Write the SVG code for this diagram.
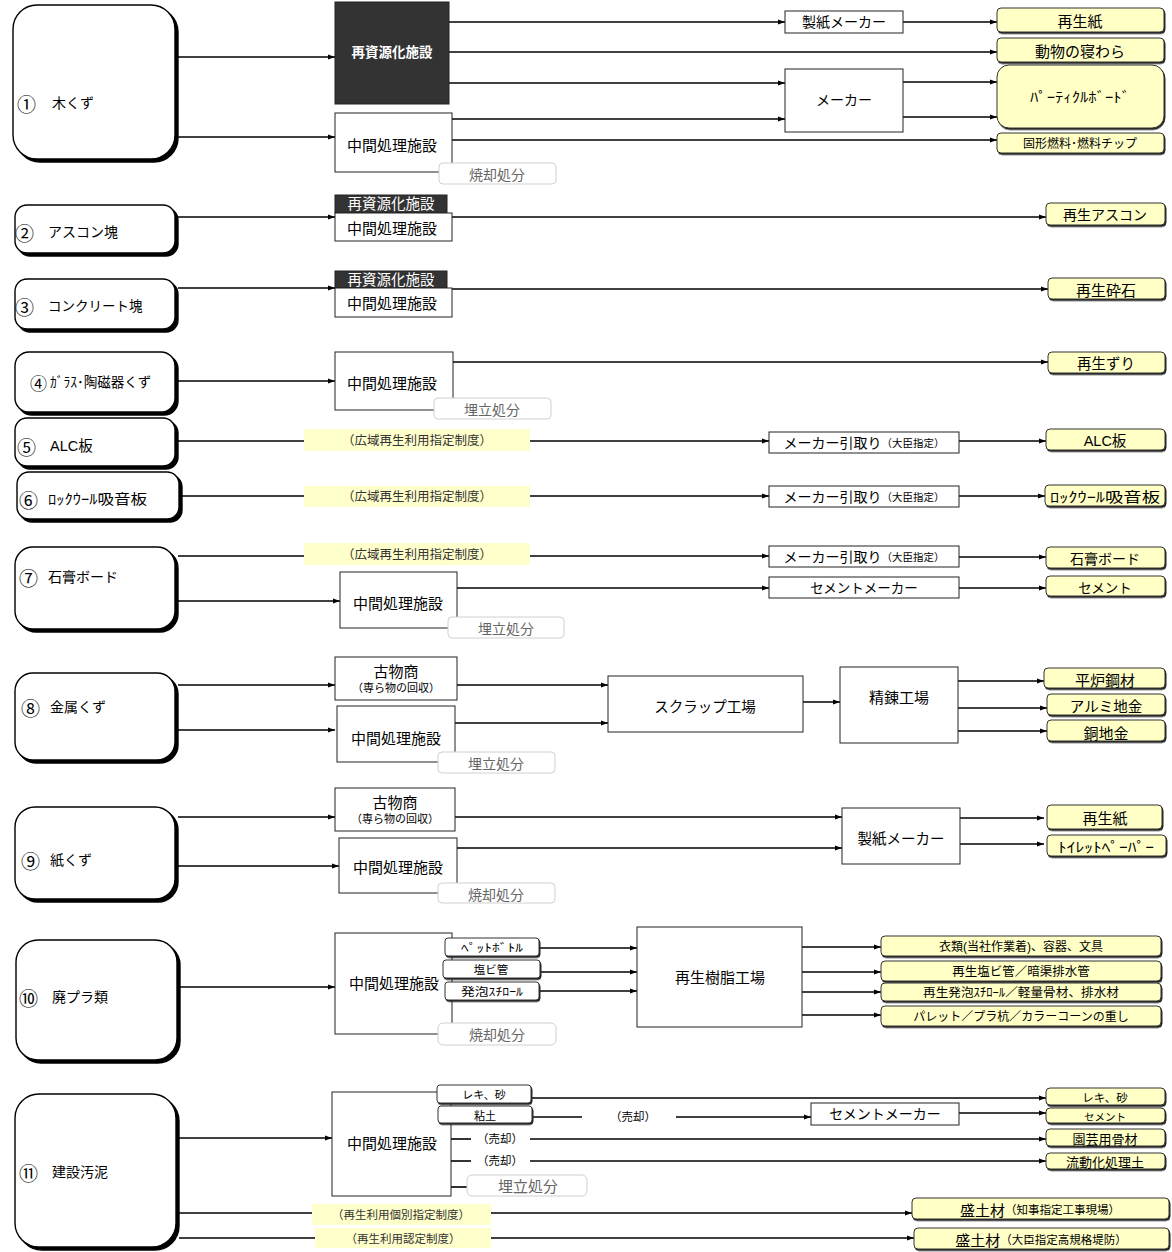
<svg xmlns="http://www.w3.org/2000/svg" width="1172" height="1252" viewBox="0 0 1172 1252">
<defs>
<style>
text{font-family:"Liberation Sans","Noto Sans CJK JP",sans-serif;fill:#000}
text.num{font-family:"Noto Sans CJK JP","Liberation Sans",sans-serif;font-size:19px}
.c{text-anchor:middle;dominant-baseline:central}
.l{dominant-baseline:central}
.src{fill:#fff;stroke:#000;stroke-width:1.4;filter:url(#shB)}
.box{fill:#fff;stroke:#222;stroke-width:1}
.dark{fill:#333;stroke:#222;stroke-width:1}
.out{fill:#ffffc6;stroke:#333;stroke-width:1;filter:url(#shS)}
.sm{fill:#fff;stroke:#333;stroke-width:1;filter:url(#shS)}
.disp{fill:#fff;stroke:#d0d0d0;stroke-width:1}
.law{fill:#ffffcc}
.lt{fill:#333;font-size:12.5px}
.dt{fill:#666;font-size:14px}
.wt{fill:#fff}
#conn path{fill:none;stroke:#000;stroke-width:1.6}
#conn .a{marker-end:url(#ah)}
</style>
<filter id="shB" x="-5%" y="-5%" width="115%" height="115%"><feDropShadow dx="3" dy="3" stdDeviation="0.3" flood-color="#000" flood-opacity="1"/></filter>
<filter id="shS" x="-5%" y="-20%" width="115%" height="150%"><feDropShadow dx="1" dy="1.5" stdDeviation="0.2" flood-color="#222" flood-opacity="1"/></filter>
<marker id="ah" markerWidth="7" markerHeight="6" refX="7" refY="3" orient="auto" markerUnits="userSpaceOnUse"><path d="M0,0.5 L7,3 L0,5.5 z" fill="#000"/></marker>
</defs>
<rect width="1172" height="1252" fill="#fff"/>

<g id="conn">
<path class="a" d="M178,57H335"/>
<path class="a" d="M178,137H335"/>
<path class="a" d="M449,22H785"/>
<path class="a" d="M903,22H997"/>
<path class="a" d="M449,52H997"/>
<path class="a" d="M449,83H785"/>
<path class="a" d="M452,119H785"/>
<path class="a" d="M903,82H997"/>
<path class="a" d="M903,117H997"/>
<path class="a" d="M452,140H997"/>
<path class="a" d="M178,217H335"/>
<path class="a" d="M452,217H1046"/>
<path class="a" d="M178,288H335"/>
<path class="a" d="M452,289H1048"/>
<path class="a" d="M178,381H335"/>
<path class="a" d="M453,362H1048"/>
<path d="M178,441H304"/>
<path class="a" d="M530,441H769"/>
<path class="a" d="M959,441H1046"/>
<path d="M182,496H304"/>
<path class="a" d="M530,496H769"/>
<path class="a" d="M959,496H1045"/>
<path d="M178,556H304"/>
<path class="a" d="M530,556H769"/>
<path class="a" d="M959,557H1046"/>
<path class="a" d="M178,601H340"/>
<path class="a" d="M457,588H769"/>
<path class="a" d="M959,588H1046"/>
<path class="a" d="M178,685H335"/>
<path class="a" d="M178,730H335"/>
<path class="a" d="M457,685H608"/>
<path class="a" d="M455,723H608"/>
<path class="a" d="M803,702H840"/>
<path class="a" d="M958,681H1044"/>
<path class="a" d="M958,708H1047"/>
<path class="a" d="M958,731H1047"/>
<path class="a" d="M178,817H335"/>
<path class="a" d="M178,866H339"/>
<path class="a" d="M455,817H842"/>
<path class="a" d="M457,848H842"/>
<path class="a" d="M960,818H1044"/>
<path class="a" d="M960,844H1044"/>
<path class="a" d="M180,987H335"/>
<path class="a" d="M539,948H637"/>
<path class="a" d="M540,972H637"/>
<path class="a" d="M539,991H637"/>
<path class="a" d="M802,947H881"/>
<path class="a" d="M802,972H881"/>
<path class="a" d="M802,992H881"/>
<path class="a" d="M802,1015H881"/>
<path class="a" d="M179,1138H332"/>
<path class="a" d="M531,1098H1046"/>
<path d="M532,1117H582"/>
<path class="a" d="M676,1117H811"/>
<path class="a" d="M959,1113H1046"/>
<path d="M451,1139H471"/>
<path class="a" d="M530,1139H1046"/>
<path d="M451,1161H471"/>
<path class="a" d="M530,1161H1046"/>
<path d="M451,1187H467"/>
<path d="M179,1213H312"/>
<path class="a" d="M491,1213H912"/>
<path d="M179,1238H315"/>
<path class="a" d="M491,1238H914"/>
</g>

<g id="n1"><rect class="src" x="13" y="5" width="162" height="154" rx="24"/><text class="l num" x="17" y="103">①</text><text class="l" x="52" y="103" font-size="14">木くず</text></g>
<g id="n2"><rect class="src" x="15" y="205" width="160" height="48" rx="12"/><text class="l num" x="15" y="232">②</text><text class="l" x="48" y="232" font-size="14">アスコン塊</text></g>
<g id="n3"><rect class="src" x="15" y="279" width="160" height="50" rx="12"/><text class="l num" x="15" y="306">③</text><text class="l" x="48" y="306" font-size="13.5">コンクリート塊</text></g>
<g id="n4"><rect class="src" x="15" y="352" width="160" height="60" rx="14"/><text class="l num" x="30" y="382" style="font-size:17px">④</text><text class="l" x="50" y="382" font-size="13.5">ｶﾞﾗｽ･陶磁器くず</text></g>
<g id="n5"><rect class="src" x="15" y="418" width="160" height="48" rx="12"/><text class="l num" x="17" y="446">⑤</text><text class="l" x="50" y="446" font-size="14.5">ALC板</text></g>
<g id="n6"><rect class="src" x="17" y="472" width="162" height="47" rx="12"/><text class="l num" x="19" y="499">⑥</text><text class="l" x="48" y="499" font-size="14" textLength="99" lengthAdjust="spacingAndGlyphs">ﾛｯｸｳｰﾙ吸音板</text></g>
<g id="n7"><rect class="src" x="15" y="547" width="160" height="82" rx="18"/><text class="l num" x="19" y="577">⑦</text><text class="l" x="48" y="577" font-size="14">石膏ボード</text></g>
<g id="n8"><rect class="src" x="15" y="673" width="160" height="87" rx="18"/><text class="l num" x="21" y="707">⑧</text><text class="l" x="50" y="707" font-size="14">金属くず</text></g>
<g id="n9"><rect class="src" x="15" y="807" width="160" height="92" rx="20"/><text class="l num" x="21" y="860">⑨</text><text class="l" x="50" y="860" font-size="14">紙くず</text></g>
<g id="n10"><rect class="src" x="16" y="940" width="161" height="120" rx="22"/><text class="l num" x="19" y="997">⑩</text><text class="l" x="52" y="997" font-size="14">廃プラ類</text></g>
<g id="n11"><rect class="src" x="15" y="1094" width="161" height="153" rx="24"/><text class="l num" x="19" y="1172">⑪</text><text class="l" x="52" y="1172" font-size="14">建設汚泥</text></g>

<g id="r1-saishigen"><rect class="dark" x="335" y="2" width="114" height="102"/><text class="c wt" x="392" y="52" font-size="13.5" font-weight="bold">再資源化施設</text></g>
<g id="r1-chukan"><rect class="box" x="335" y="113" width="117" height="59"/><text class="c" x="392" y="145" font-size="15">中間処理施設</text></g>
<g id="r1-shokyaku"><rect class="disp" x="439" y="163" width="117" height="21" rx="4"/><text class="c dt" x="497" y="175">焼却処分</text></g>
<g id="r1-seishi"><rect class="box" x="785" y="11" width="118" height="22"/><text class="c" x="844" y="22" font-size="14">製紙メーカー</text></g>
<g id="r1-maker"><rect class="box" x="785" y="69" width="118" height="63"/><text class="c" x="844" y="100" font-size="14">メーカー</text></g>
<g id="o-saiseishi1"><rect class="out" x="997" y="8" width="167" height="24" rx="4"/><text class="c" x="1080" y="21" font-size="15">再生紙</text></g>
<g id="o-newara"><rect class="out" x="997" y="38" width="167" height="24" rx="4"/><text class="c" x="1080" y="51" font-size="15">動物の寝わら</text></g>
<g id="o-particle"><rect class="out" x="997" y="65" width="167" height="63" rx="12"/><text class="c" x="1080" y="97" font-size="14" textLength="100" lengthAdjust="spacingAndGlyphs">ﾊﾟｰﾃｨｸﾙﾎﾞｰﾄﾞ</text></g>
<g id="o-kokei"><rect class="out" x="997" y="133" width="167" height="20" rx="4"/><text class="c" x="1080" y="144" font-size="12">固形燃料･燃料チップ</text></g>

<g id="r2-saishigen"><rect class="dark" x="335" y="195" width="112" height="18"/><text class="c wt" x="391" y="204" font-size="14.5">再資源化施設</text></g>
<g id="r2-chukan"><rect class="box" x="335" y="213" width="117" height="28"/><text class="c" x="392" y="228" font-size="15">中間処理施設</text></g>
<g id="o-ascon"><rect class="out" x="1046" y="203" width="119" height="22" rx="4"/><text class="c" x="1105" y="215" font-size="14">再生アスコン</text></g>

<g id="r3-saishigen"><rect class="dark" x="335" y="271" width="112" height="17"/><text class="c wt" x="391" y="279.5" font-size="14.5">再資源化施設</text></g>
<g id="r3-chukan"><rect class="box" x="335" y="288" width="117" height="29"/><text class="c" x="392" y="303" font-size="15">中間処理施設</text></g>
<g id="o-saiseki"><rect class="out" x="1048" y="278" width="117" height="21" rx="4"/><text class="c" x="1106" y="290" font-size="15">再生砕石</text></g>

<g id="r4-chukan"><rect class="box" x="335" y="352" width="118" height="58"/><text class="c" x="392" y="383" font-size="15">中間処理施設</text></g>
<g id="r4-umetate"><rect class="disp" x="434" y="398" width="117" height="21" rx="4"/><text class="c dt" x="492" y="410">埋立処分</text></g>
<g id="o-zuri"><rect class="out" x="1048" y="352" width="117" height="21" rx="4"/><text class="c" x="1106" y="364" font-size="14.5">再生ずり</text></g>

<g id="r5-law"><rect class="law" x="304" y="429" width="226" height="22"/><text class="c lt" x="417" y="441">（広域再生利用指定制度）</text></g>
<g id="r5-maker"><rect class="box" x="769" y="432" width="190" height="21"/><text class="c" x="864" y="443"><tspan font-size="14">メーカー引取り</tspan><tspan font-size="10.5">（大臣指定）</tspan></text></g>
<g id="o-alc"><rect class="out" x="1046" y="429" width="119" height="21" rx="4"/><text class="c" x="1105" y="441" font-size="14.5">ALC板</text></g>

<g id="r6-law"><rect class="law" x="304" y="486" width="226" height="21"/><text class="c lt" x="417" y="497">（広域再生利用指定制度）</text></g>
<g id="r6-maker"><rect class="box" x="769" y="486" width="190" height="21"/><text class="c" x="864" y="497"><tspan font-size="14">メーカー引取り</tspan><tspan font-size="10.5">（大臣指定）</tspan></text></g>
<g id="o-rockwool"><rect class="out" x="1045" y="485" width="120" height="21" rx="4"/><text class="c" x="1105" y="497" font-size="14" textLength="110" lengthAdjust="spacingAndGlyphs">ﾛｯｸｳｰﾙ吸音板</text></g>

<g id="r7-law"><rect class="law" x="304" y="543" width="226" height="22"/><text class="c lt" x="417" y="555">（広域再生利用指定制度）</text></g>
<g id="r7-maker"><rect class="box" x="769" y="546" width="190" height="21"/><text class="c" x="864" y="557"><tspan font-size="14">メーカー引取り</tspan><tspan font-size="10.5">（大臣指定）</tspan></text></g>
<g id="o-sekko"><rect class="out" x="1046" y="547" width="119" height="21" rx="4"/><text class="c" x="1105" y="559" font-size="14">石膏ボード</text></g>
<g id="r7-chukan"><rect class="box" x="340" y="572" width="117" height="56"/><text class="c" x="398" y="603" font-size="15">中間処理施設</text></g>
<g id="r7-umetate"><rect class="disp" x="448" y="617" width="116" height="21" rx="4"/><text class="c dt" x="506" y="629">埋立処分</text></g>
<g id="r7-cement"><rect class="box" x="769" y="577" width="190" height="21"/><text class="c" x="864" y="588" font-size="13.5">セメントメーカー</text></g>
<g id="o-cement7"><rect class="out" x="1046" y="576" width="119" height="20" rx="4"/><text class="c" x="1105" y="588" font-size="13.5">セメント</text></g>

<g id="r8-kobutsu"><rect class="box" x="335" y="657" width="122" height="43"/><text class="c" x="396" y="671" font-size="15">古物商</text><text class="c" x="396" y="688" font-size="11">（専ら物の回収）</text></g>
<g id="r8-chukan"><rect class="box" x="337" y="706" width="118" height="56"/><text class="c" x="396" y="738" font-size="15">中間処理施設</text></g>
<g id="r8-umetate"><rect class="disp" x="438" y="752" width="117" height="21" rx="4"/><text class="c dt" x="496" y="764">埋立処分</text></g>
<g id="r8-scrap"><rect class="box" x="608" y="676" width="195" height="56"/><text class="c" x="705" y="707" font-size="14.5">スクラップ工場</text></g>
<g id="r8-seiren"><rect class="box" x="840" y="667" width="118" height="76"/><text class="c" x="899" y="697" font-size="15">精錬工場</text></g>
<g id="o-heiro"><rect class="out" x="1044" y="668" width="121" height="20" rx="4"/><text class="c" x="1105" y="680" font-size="15">平炉鋼材</text></g>
<g id="o-alumi"><rect class="out" x="1047" y="694" width="118" height="21" rx="4"/><text class="c" x="1106" y="707" font-size="14.5">アルミ地金</text></g>
<g id="o-do"><rect class="out" x="1047" y="720" width="118" height="21" rx="4"/><text class="c" x="1106" y="733" font-size="15">銅地金</text></g>

<g id="r9-kobutsu"><rect class="box" x="335" y="788" width="120" height="43"/><text class="c" x="395" y="802" font-size="15">古物商</text><text class="c" x="395" y="819" font-size="11">（専ら物の回収）</text></g>
<g id="r9-chukan"><rect class="box" x="339" y="838" width="118" height="55"/><text class="c" x="398" y="867" font-size="15">中間処理施設</text></g>
<g id="r9-shokyaku"><rect class="disp" x="438" y="883" width="117" height="20" rx="4"/><text class="c dt" x="496" y="895">焼却処分</text></g>
<g id="r9-seishi"><rect class="box" x="842" y="808" width="118" height="56"/><text class="c" x="901" y="839" font-size="14.5">製紙メーカー</text></g>
<g id="o-saiseishi9"><rect class="out" x="1047" y="805" width="115" height="24" rx="4"/><text class="c" x="1105" y="818" font-size="15">再生紙</text></g>
<g id="o-toilet"><rect class="out" x="1047" y="835" width="119" height="21" rx="4"/><text class="c" x="1106" y="847" font-size="14" textLength="96" lengthAdjust="spacingAndGlyphs">ﾄｲﾚｯﾄﾍﾟｰﾊﾟｰ</text></g>

<g id="r10-chukan"><rect class="box" x="335" y="933" width="117" height="101"/><text class="c" x="394" y="983" font-size="15">中間処理施設</text></g>
<g id="r10-pet"><rect class="sm" x="445" y="938" width="94" height="18" rx="3"/><text class="c" x="492" y="947.5" font-size="11" textLength="62" lengthAdjust="spacingAndGlyphs">ﾍﾟｯﾄﾎﾞﾄﾙ</text></g>
<g id="r10-enbi"><rect class="sm" x="443" y="960" width="97" height="18" rx="3"/><text class="c" x="491" y="969.5" font-size="11.5">塩ビ管</text></g>
<g id="r10-happo"><rect class="sm" x="445" y="982" width="94" height="18" rx="3"/><text class="c" x="492" y="991.5" font-size="11" textLength="62" lengthAdjust="spacingAndGlyphs">発泡ｽﾁﾛｰﾙ</text></g>
<g id="r10-shokyaku"><rect class="disp" x="438" y="1023" width="118" height="22" rx="5"/><text class="c dt" x="497" y="1035">焼却処分</text></g>
<g id="r10-jushi"><rect class="box" x="637" y="927" width="165" height="100"/><text class="c" x="720" y="977" font-size="15">再生樹脂工場</text></g>
<g id="o-irui"><rect class="out" x="881" y="936" width="280" height="20" rx="4"/><text class="c" x="1021" y="947" font-size="12">衣類(当社作業着)、容器、文具</text></g>
<g id="o-enbikan"><rect class="out" x="881" y="961" width="280" height="20" rx="4"/><text class="c" x="1021" y="972" font-size="12.5">再生塩ビ管／暗渠排水管</text></g>
<g id="o-happo"><rect class="out" x="881" y="983" width="280" height="18" rx="4"/><text class="c" x="1021" y="993" font-size="12" textLength="196" lengthAdjust="spacingAndGlyphs">再生発泡ｽﾁﾛｰﾙ／軽量骨材、排水材</text></g>
<g id="o-pallet"><rect class="out" x="881" y="1006" width="280" height="20" rx="4"/><text class="c" x="1021" y="1017" font-size="12">パレット／プラ杭／カラーコーンの重し</text></g>

<g id="r11-chukan"><rect class="box" x="332" y="1092" width="119" height="104"/><text class="c" x="392" y="1143" font-size="15">中間処理施設</text></g>
<g id="r11-reki"><rect class="sm" x="437" y="1085" width="94" height="18" rx="3"/><text class="c" x="484" y="1094.5" font-size="11">レキ、砂</text></g>
<g id="r11-nendo"><rect class="sm" x="438" y="1106" width="94" height="17" rx="3"/><text class="c" x="485" y="1115.5" font-size="11">粘土</text></g>
<g id="r11-umetate"><rect class="disp" x="467" y="1175" width="120" height="21" rx="5"/><text class="c" x="528" y="1186" font-size="15" style="fill:#666">埋立処分</text></g>
<g id="r11-labels"><text class="c" x="500" y="1139" font-size="11.5">（売却）</text><text class="c" x="500" y="1161" font-size="11.5">（売却）</text><text class="c" x="633" y="1117" font-size="11.5">（売却）</text></g>
<g id="r11-cement"><rect class="box" x="811" y="1103" width="148" height="22"/><text class="c" x="885" y="1114" font-size="14">セメントメーカー</text></g>
<g id="r11-law1"><rect class="law" x="312" y="1204" width="179" height="21"/><text class="c lt" x="401" y="1215" style="font-size:11.5px">（再生利用個別指定制度）</text></g>
<g id="r11-law2"><rect class="law" x="315" y="1228" width="176" height="20"/><text class="c lt" x="403" y="1239" style="font-size:11.5px">（再生利用認定制度）</text></g>
<g id="o-reki"><rect class="out" x="1046" y="1088" width="119" height="17" rx="4"/><text class="c" x="1105" y="1098" font-size="11.5">レキ、砂</text></g>
<g id="o-cement11"><rect class="out" x="1046" y="1108" width="119" height="15" rx="4"/><text class="c" x="1105" y="1117" font-size="10.5">セメント</text></g>
<g id="o-engei"><rect class="out" x="1046" y="1129" width="119" height="17" rx="4"/><text class="c" x="1105" y="1139" font-size="13">園芸用骨材</text></g>
<g id="o-ryudo"><rect class="out" x="1046" y="1153" width="119" height="16" rx="4"/><text class="c" x="1105" y="1162" font-size="13">流動化処理土</text></g>
<g id="o-morido1"><rect class="out" x="912" y="1198" width="257" height="21" rx="4"/><text class="c" x="1040" y="1210"><tspan font-size="15">盛土材</tspan><tspan font-size="11.5">（知事指定工事現場）</tspan></text></g>
<g id="o-morido2"><rect class="out" x="914" y="1228" width="255" height="21" rx="4"/><text class="c" x="1041" y="1240"><tspan font-size="15">盛土材</tspan><tspan font-size="11.5">（大臣指定高規格堤防）</tspan></text></g>
</svg>
